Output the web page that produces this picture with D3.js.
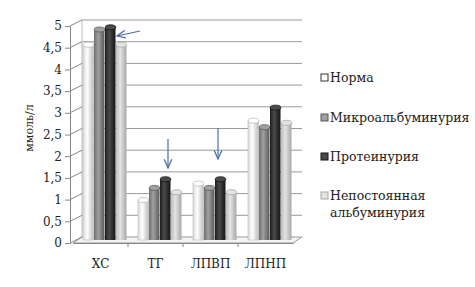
<!DOCTYPE html>
<html>
<head>
<meta charset="utf-8">
<title>Липиды</title>
<script src="https://cdnjs.cloudflare.com/ajax/libs/d3/7.8.5/d3.min.js"></script>
<style>
  body { margin: 0; background: #fff; }
  svg text { font-family: "DejaVu Serif", "Liberation Serif", serif; fill: #222; }
</style>
</head>
<body>
<script>
var categories = ["ХС", "ТГ", "ЛПВП", "ЛПНП"];
var seriesNames = ["Норма", "Микроальбуминурия", "Протеинурия", "Непостоянная альбуминурия"];
var norma   = [4.5, 0.92, 1.3, 2.75];
var micro   = [4.85, 1.2, 1.2, 2.6];
var protein = [4.9, 1.4, 1.4, 3.05];
var neposto = [4.5, 1.1, 1.1, 2.7];
var yTicks = [0, 0.5, 1, 1.5, 2, 2.5, 3, 3.5, 4, 4.5, 5];

var series = [norma, micro, protein, neposto];
var colors = [
  ["#d8d8d8", "#ffffff", "#bdbdbd"],
  ["#6e6e6e", "#a0a0a0", "#5a5a5a"],
  ["#1e1e1e", "#4a4a4a", "#141414"],
  ["#bcbcbc", "#e4e4e4", "#a8a8a8"]
];

var width = 475, height = 287,
    dx = 9, dy = 6; // 3D depth shift

var svg = d3.select("body").append("svg")
    .attr("width", width).attr("height", height);

var defs = svg.append("defs");
colors.forEach(function(c, i) {
  var g = defs.append("linearGradient").attr("id", "cyl" + i)
      .attr("x1", "0%").attr("x2", "100%").attr("y1", "0%").attr("y2", "0%");
  g.append("stop").attr("offset", "0%").attr("stop-color", c[0]);
  g.append("stop").attr("offset", "40%").attr("stop-color", c[1]);
  g.append("stop").attr("offset", "100%").attr("stop-color", c[2]);
});

var y = d3.scaleLinear().domain([0, 5]).range([243, 26]);
var x0 = d3.scaleBand().domain(categories).range([73, 293])
    .paddingInner(0.2).paddingOuter(0.1);
var x1 = d3.scaleBand().domain(d3.range(4)).range([0, x0.bandwidth()]);

// back wall gridlines
svg.append("g").selectAll("line").data(yTicks.slice(1)).join("line")
    .attr("x1", 73 + dx).attr("x2", 293 + dx)
    .attr("y1", d => y(d) - dy).attr("y2", d => y(d) - dy)
    .attr("stroke", "#9a9a9a").attr("stroke-width", 1);

// left wall
svg.append("line").attr("x1", 73 + dx).attr("x2", 73 + dx)
    .attr("y1", y(5) - dy).attr("y2", y(0) - dy).attr("stroke", "#bbb");

// floor
svg.append("path")
    .attr("d", "M73," + y(0) + "L" + (73 + dx) + "," + (y(0) - dy) +
         "L" + (293 + dx) + "," + (y(0) - dy) + "L293," + y(0) + "Z")
    .attr("fill", "#f4f4f4").attr("stroke", "#999");

// y axis (front)
var yAxis = d3.axisLeft(y).tickValues(yTicks).tickSize(5)
    .tickFormat(d => String(d).replace(".", ","));
var ya = svg.append("g").attr("transform", "translate(70,0)").call(yAxis)
    .attr("font-family", null);
ya.select(".domain").attr("stroke", "#888");
ya.selectAll(".tick line").attr("stroke", "#888");
ya.selectAll(".tick text").attr("font-size", 12).attr("fill", "#222");
// diagonal connectors to back wall
svg.append("g").selectAll("line").data(yTicks).join("line")
    .attr("x1", 70).attr("y1", d => y(d))
    .attr("x2", 73 + dx).attr("y2", d => y(d) - dy)
    .attr("stroke", "#888");

// x axis
var xAxis = d3.axisBottom(x0).tickSize(0).tickPadding(16);
var xa = svg.append("g").attr("transform", "translate(0," + y(0) + ")").call(xAxis)
    .attr("font-family", null);
xa.select(".domain").attr("stroke", "#888");
xa.selectAll(".tick text").attr("font-size", 12).attr("fill", "#222");
svg.append("g").selectAll("line").data([128, 183, 238]).join("line")
    .attr("x1", d => d).attr("x2", d => d)
    .attr("y1", y(0)).attr("y2", y(0) + 4).attr("stroke", "#888");

// bars as cylinders
var bw = x1.bandwidth();
var groups = svg.append("g").selectAll("g").data(categories).join("g")
    .attr("transform", d => "translate(" + (x0(d) + dx / 2) + ",0)");
groups.selectAll("g.bar").data((d, ci) => series.map((s, si) => ({v: s[ci], si: si})))
  .join("g").attr("class", "bar").each(function(d) {
    var g = d3.select(this);
    var bx = x1(d.si), top = y(d.v) - dy / 2, bot = y(0) - dy / 2;
    g.append("rect").attr("x", bx).attr("y", top).attr("width", bw - 0.5)
        .attr("height", bot - top).attr("fill", "url(#cyl" + d.si + ")")
        .attr("stroke", d.si === 0 ? "#bbb" : "none").attr("stroke-width", 0.6);
    g.append("ellipse").attr("cx", bx + bw / 2).attr("cy", top)
        .attr("rx", bw / 2 - 0.25).attr("ry", 2.5)
        .attr("fill", colors[d.si][1]).attr("stroke", colors[d.si][2]).attr("stroke-width", 0.8);
  });

// arrows
var arrowCol = "#4a6ea8";
defs.append("marker").attr("id", "arr").attr("viewBox", "0 0 10 10")
    .attr("refX", 9).attr("refY", 5).attr("markerWidth", 8).attr("markerHeight", 8)
    .attr("orient", "auto")
  .append("path").attr("d", "M0,1L9,5L0,9").attr("fill", "none")
    .attr("stroke", arrowCol).attr("stroke-width", 1.3);
var arrows = [[140, 31, 117, 36], [168, 139, 168, 168], [218, 128, 218, 159]];
svg.append("g").selectAll("line").data(arrows).join("line")
    .attr("x1", d => d[0]).attr("y1", d => d[1]).attr("x2", d => d[2]).attr("y2", d => d[3])
    .attr("stroke", arrowCol).attr("stroke-width", 1.2).attr("marker-end", "url(#arr)");

// y label
svg.append("text").attr("transform", "translate(33,128) rotate(-90)")
    .attr("text-anchor", "middle").attr("font-size", 11).text("ммоль/л");

// legend
var legendY = [78, 118, 157, 196];
var lg = svg.append("g").selectAll("g").data(seriesNames).join("g")
    .attr("transform", (d, i) => "translate(321," + legendY[i] + ")");
lg.append("rect").attr("x", 0).attr("y", -4).attr("width", 7).attr("height", 7)
    .attr("fill", (d, i) => colors[i][1]).attr("stroke", (d, i) => i === 0 ? "#333" : colors[i][2]);
lg.append("text").attr("x", 9).attr("y", 4).attr("font-size", 12.5)
    .each(function(d) {
      var parts = d.split(" ");
      var t = d3.select(this);
      parts.forEach(function(p, k) {
        t.append("tspan").attr("x", 9).attr("dy", k === 0 ? 0 : 17).text(p);
      });
    });
</script>
</body>
</html>
